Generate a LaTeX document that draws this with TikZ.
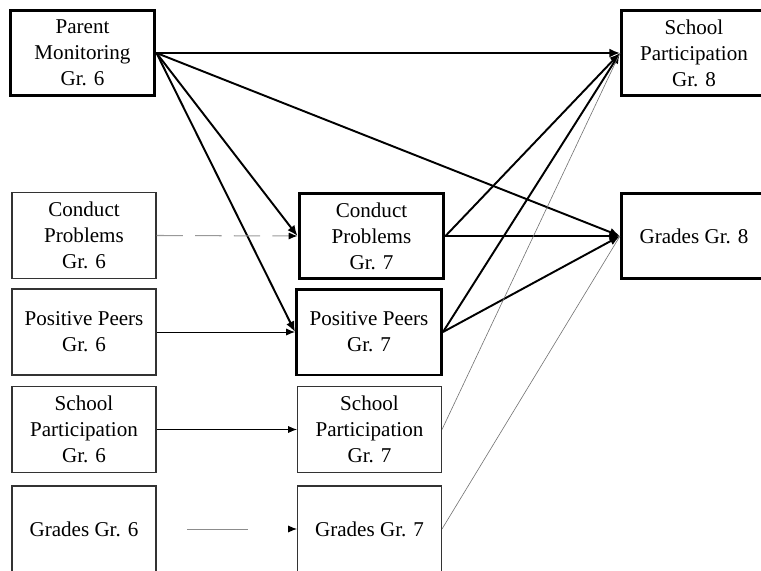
\documentclass[tikz,border=0pt]{standalone}
\usepackage{fontspec}
\setmainfont{Liberation Serif}
\usepackage{tikz}
\usetikzlibrary{arrows.meta}

\begin{document}
\begin{tikzpicture}[x=0.02cm, y=-0.02cm,
		every node/.style={align=center, inner sep=0pt, font=\fontsize{12}{14.8}\selectfont},
		heavybox/.style={draw, line width=1.7pt, minimum width=2.9cm, minimum height=1.72cm},
		lightbox/.style={draw=black!80, line width=0.6pt, minimum width=2.88cm, minimum height=1.72cm},
		strong/.style={line width=1.1pt, -{Latex[length=6pt, width=5pt]}},
		plain/.style={line width=0.5pt, -{Latex[length=5pt, width=4pt]}},
		faint/.style={black!55, line width=0.35pt}]
	\path[use as bounding box, clip] (0,0) rectangle (761,571);

	\node[heavybox] (PM6) at (82.5,53) {Parent\\Monitoring\\Gr. 6};
	\node[lightbox] (CP6) at (84,235.5) {Conduct\\Problems\\Gr. 6};
	\node[lightbox] (PP6) at (84,332) {Positive Peers\\Gr. 6};
	\node[lightbox] (SP6) at (84,429.5) {School\\Participation\\Gr. 6};
	\node[lightbox] (G6) at (84,529) {Grades Gr. 6};

	\node[heavybox] (CP7) at (371.5,236) {Conduct\\Problems\\Gr. 7};
	\node[heavybox] (PP7) at (369,332) {Positive Peers\\Gr. 7};
	\node[lightbox] (SP7) at (369.5,429.5) {School\\Participation\\Gr. 7};
	\node[lightbox] (G7) at (369.5,529) {Grades Gr. 7};

	\node[heavybox] (SP8) at (694,53) {School\\Participation\\Gr. 8};
	\node[heavybox] (G8) at (694,236) {Grades Gr. 8};

	\draw[strong] (PM6.east) -- (SP8.west);
	\draw[strong] (PM6.east) -- (G8.west);
	\draw[strong] (PM6.east) -- (CP7.west);
	\draw[strong] (PM6.east) -- (PP7.west);

	\draw[strong] (CP7.east) -- (SP8.west);
	\draw[strong] (CP7.east) -- (G8.west);
	\draw[strong] (PP7.east) -- (SP8.west);
	\draw[strong] (PP7.east) -- (G8.west);

	\draw[faint] (SP7.east) -- (SP8.west);
	\draw[faint] (G7.east) -- (G8.west);

	\draw[plain, black!40, line width=0.6pt, dash pattern=on 15pt off 7pt, -{Latex[length=5pt, width=4pt, black]}] (CP6.east) -- (CP7.west);
	\draw[plain] (PP6.east) -- (PP7.west);
	\draw[plain] (SP6.east) -- (SP7.west);
	\draw[plain, black!45, dash pattern=on 0pt off 17.6pt on 34.7pt off 200pt, -{Latex[length=5pt, width=4pt, black]}] (G6.east) -- (G7.west);
\end{tikzpicture}
\end{document}
